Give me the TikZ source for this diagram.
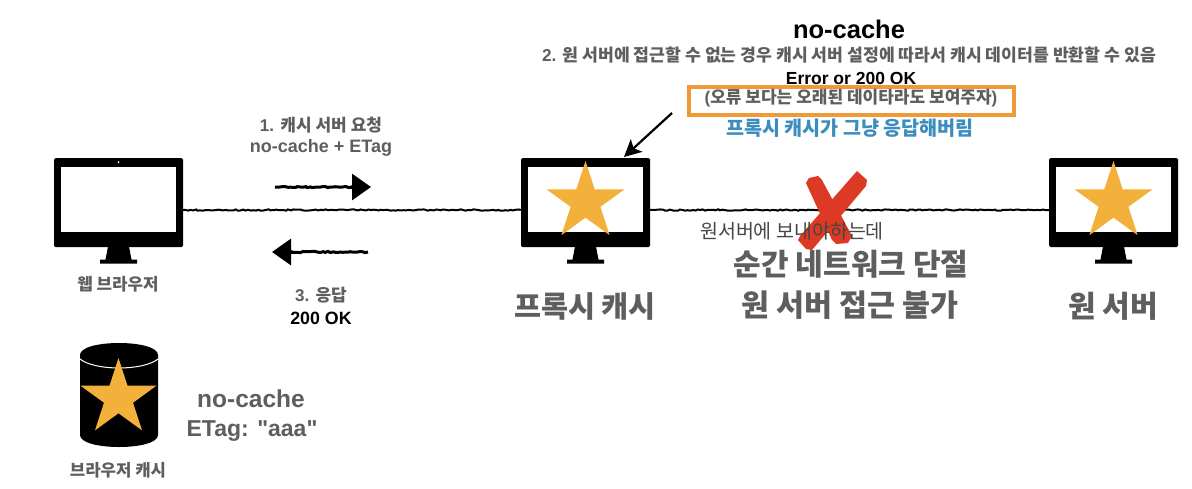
\documentclass[tikz,border=0pt]{standalone}
\usepackage{fontspec}
\setmainfont{Liberation Sans}
\newfontfamily\krfont{Noto Sans CJK KR}
\newfontfamily\latfont{Liberation Sans}
\newcommand{\K}[1]{{\krfont #1}}
\usetikzlibrary{shapes.geometric,arrows.meta,decorations.pathmorphing}
\definecolor{txtgrey}{HTML}{5E5E5E}
\definecolor{txtdark}{HTML}{454545}
\definecolor{staryellow}{HTML}{F3B13C}
\definecolor{boxorange}{HTML}{F09A37}
\definecolor{noteblue}{HTML}{3C8DBF}
\definecolor{crossred}{HTML}{DC3A25}
\tikzset{
  x=1pt,y=-1pt,
  lbl/.style={font=\bfseries,text=txtgrey,inner sep=0pt,align=center},
  goldstar/.style={star,star points=5,star point ratio=2.618,fill=staryellow,draw=none,inner sep=0pt},
  sketch/.style={draw=black,line width=2pt,decorate,decoration={random steps,segment length=2.5pt,amplitude=.7pt}},
  sketchtip/.style={-{Triangle[length=19pt,width=26pt]},draw=black,line width=3pt},
  monitor/.pic={
    \node[fill=black,minimum width=129pt,minimum height=89pt,inner sep=0pt,rounded corners=1.5pt] (body) at (0,0) {};
    \fill[white] (-57.5,-35.5) rectangle (57.5,29.5);
    \fill[black] (-10.5,44) -- (10.5,44) -- (13,57) -- (18.5,57) -- (18.5,61) -- (-18.5,61) -- (-18.5,57) -- (-13,57) -- cycle;
  }
}
\begin{document}
\begin{tikzpicture}
\useasboundingbox (0,0) rectangle (1192,488);
\fill[white] (0,0) rectangle (1192,488);

\pic (browser) at (118.5,202.5) {monitor};
\pic (proxy) at (585.5,202.5) {monitor};
\pic (server) at (1113.5,202.5) {monitor};
\fill[white] (118.5,162) circle (1);

\draw[sketch] ([yshift=-7.5pt]browserbody.east) -- ([yshift=-7.5pt]proxybody.west);
\draw[sketch] ([yshift=-7.5pt]proxybody.east) -- ([yshift=-7.5pt]serverbody.west);

\node[goldstar,minimum size=82pt] (starproxy) at (585.5,202) {};
\node[goldstar,minimum size=82pt] (starserver) at (1113.5,202) {};

% red cross
\fill[crossred] (857,171) -- (867,180) -- (866,186) -- (812,250) -- (806,249) -- (798,240) -- (800,236) -- cycle;
\fill[crossred] (806,183) -- (809,178) -- (818,176) -- (822,180) -- (852,236) -- (848,243) -- (836,244) -- (832,240) -- cycle;

% request / response arrows
\coordinate (reqa) at (275,187);
\coordinate (reqb) at (371,187);
\coordinate (resa) at (368,252);
\coordinate (resb) at (272,252);
\draw[sketch,line width=3pt] (reqa) -- (355,187);
\draw[sketchtip] (350,187) -- (reqb);
\draw[sketch,line width=3pt] (resa) -- (288,252);
\draw[sketchtip] (293,252) -- (resb);

% pointer to proxy
\coordinate (ptra) at (672,113);
\coordinate (ptrb) at (624,157);
\draw[-{Stealth[length=17pt,width=17pt,inset=4pt]},line width=2.2pt] (ptra) -- (ptrb);

% browser cache
\fill[black] (80,355) .. controls (80,339) and (158,339) .. (158,355) -- (158,435) .. controls (158,451) and (80,451) .. (80,435) -- cycle;
\draw[white,line width=1pt] (80,359) .. controls (95,371) and (143,371) .. (158,359);
\node[goldstar,minimum size=80pt] (starcache) at (118.5,398) {};

% orange box
\node[draw=boxorange,line width=4pt,minimum width=325pt,minimum height=28pt,inner sep=0pt] (notebox) at (851,100.5) {};

% texts
\node[lbl,text=black,font=\bfseries\fontsize{25.5}{28}\selectfont] (t1) at (849,29) {no-cache};
\node[lbl,font=\bfseries\fontsize{17.2}{19}\selectfont] (t2) at (849,55) {2. \K{원 서버에 접근할 수 없는 경우 캐시 서버 설정에 따라서 캐시 데이터를 반환할 수 있음}};
\node[lbl,text=black,font=\bfseries\fontsize{17.5}{19}\selectfont] (t3) at (851,78) {Error or 200 OK};
\node[lbl,font=\bfseries\fontsize{17}{19}\selectfont] (t4) at (851,98) {(\K{오류 보다는 오래된 데이타라도 보여주자})};
\node[lbl,text=noteblue,font=\bfseries\fontsize{19.6}{22}\selectfont] (t5) at (850,128) {\K{프록시 캐시가 그냥 응답해버림}};

\node[lbl,text=txtdark,font=\krfont\fontsize{19.5}{22}\selectfont] (t6) at (792,231) {원서버에 보내야하는데};
\node[lbl,font=\krfont\bfseries\fontsize{30}{32}\selectfont] (t7) at (851,264) {순간 네트워크 단절};
\node[lbl,font=\krfont\bfseries\fontsize{30.4}{32}\selectfont] (t8) at (850,305) {원 서버 접근 불가};
\node[lbl,font=\krfont\bfseries\fontsize{29.4}{32}\selectfont] (t9) at (585,306) {프록시 캐시};
\node[lbl,font=\krfont\bfseries\fontsize{30}{32}\selectfont] (t10) at (1113,306) {원 서버};

\node[lbl,font=\krfont\bfseries\fontsize{16.8}{18}\selectfont] (t11) at (118,284) {웹 브라우저};
\node[lbl,font=\krfont\bfseries\fontsize{16.7}{18}\selectfont] (t12) at (118,470) {브라우저 캐시};

\node[lbl,font=\bfseries\fontsize{17}{19}\selectfont] (t13) at (321,125) {1. \K{캐시 서버 요청}};
\node[lbl,font=\bfseries\fontsize{18}{20}\selectfont] (t14) at (321,148) {no-cache + ETag};
\node[lbl,font=\bfseries\fontsize{17}{19}\selectfont] (t15) at (321,295) {3. \K{응답}};
\node[lbl,text=black,font=\bfseries\fontsize{17.8}{20}\selectfont] (t16) at (321,318) {200 OK};
\node[lbl,font=\bfseries\fontsize{24.5}{27}\selectfont] (t17) at (251,399) {no-cache};
\node[lbl,font=\bfseries\fontsize{23}{26}\selectfont] (t18) at (252,431) {ETag: {\latfont\bfseries "aaa"}};
\end{tikzpicture}
\end{document}
